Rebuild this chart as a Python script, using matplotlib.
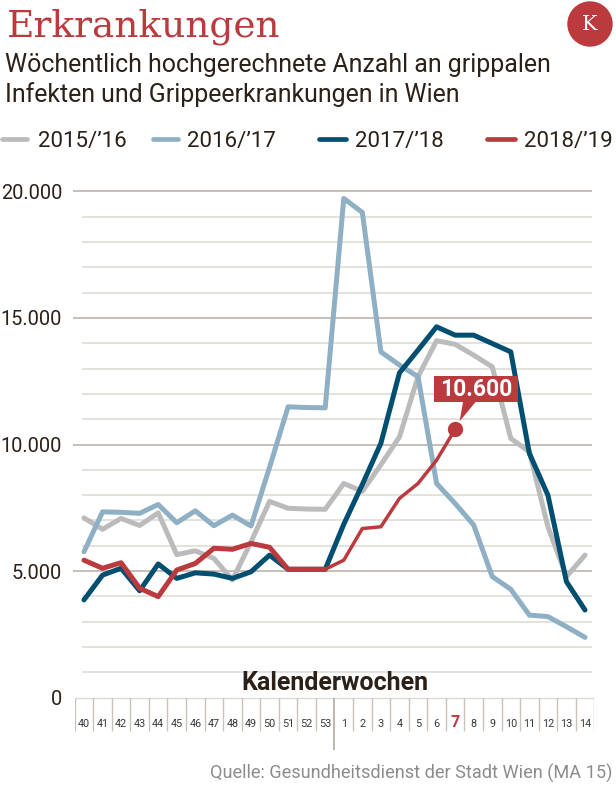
import matplotlib
matplotlib.use("Agg")
import matplotlib.pyplot as plt
from matplotlib.lines import Line2D
from matplotlib.patches import Circle, Rectangle, Polygon
from matplotlib.transforms import IdentityTransform

# Kalenderwochen 40..53, 1..14
weeks = [str(w) for w in range(40, 54)] + [str(w) for w in range(1, 15)]
season_labels = ["2015/\u201916", "2016/\u201917", "2017/\u201918", "2018/\u201919"]

s1516 = [7100, 6650, 7080, 6800, 7300, 5650, 5800, 5500, 4650, 6150, 7750, 7480, 7450, 7440,
         8460, 8150, 9200, 10300, 12680, 14100, 13960, 13530, 13070, 10240, 9710, 6750, 4780, 5630]
s1617 = [5760, 7340, 7320, 7280, 7630, 6910, 7380, 6790, 7210, 6780, 9100, 11490, 11460, 11450,
         19720, 19170, 13660, 13140, 12680, 8460, 7670, 6820, 4780, 4280, 3260, 3200, 2800, 2380]
s1718 = [3860, 4840, 5110, 4220, 5280, 4710, 4930, 4880, 4710, 4970, 5630, 5070, 5070, 5070,
         6850, 8420, 10050, 12830, 13730, 14650, 14320, 14320, 13990, 13660, 9650, 8000, 4580, 3460]
s1819 = [5430, 5110, 5330, 4320, 3990, 5040, 5300, 5900, 5860, 6090, 5940, 5070, 5070, 5070,
         5430, 6680, 6750, 7870, 8460, 9380, 10600]
current_week = "7"

c_gray = "#bbbbbb"
c_lblue = "#8fb0c4"
c_dark = "#004f70"
c_red = "#bb3a3e"
c_text = "#2b2118"
colors = [c_gray, c_lblue, c_dark, c_red]

W, H = 616, 785
fig = plt.figure(figsize=(W / 100, H / 100), dpi=100)
FONT = "Roboto"


def fx(x):
    return x / W


def fy(y):
    return 1 - y / H


# plot area: x from 74.7 to 594.3 px, y 0 at 697.6, 20000 at 191.4
left, right, y0, y20 = 74.7, 594.3, 697.6, 191.4
ax = fig.add_axes([fx(left), fy(y0), (right - left) / W, (y0 - y20) / H])
n = len(weeks)
ax.set_xlim(-0.5, n - 0.5)
ax.set_ylim(0, 20000)
for s in ax.spines.values():
    s.set_visible(False)
ax.set_xticks([])
ax.set_yticks([0, 5000, 10000, 15000, 20000])
ax.set_yticklabels(["0", "5.000", "10.000", "15.000", "20.000"], fontname=FONT,
                   fontsize=14.4, color=c_text)
ax.tick_params(axis="y", length=0, pad=9)

step = (right - left) / n
def px2x(p):
    return (p - left) / step - 0.5

for v in range(1000, 20001, 1000):
    if v % 5000 == 0:
        ax.hlines(v, px2x(73), px2x(592), color="#b5ada3", lw=1.1, clip_on=False, zorder=1)
    else:
        ax.hlines(v, px2x(82), px2x(592), color="#dedad5", lw=1.1, clip_on=False, zorder=1)

lw = 3.6
xs = list(range(n))
for vals, col in zip([s1516, s1617, s1718], colors[:3]):
    ax.plot(xs[:len(vals)], vals, color=col, lw=lw, clip_on=False, zorder=3,
            solid_capstyle="round")
ax.plot(xs[:14], s1819[:14], color=c_red, lw=lw, clip_on=False, zorder=4, solid_capstyle="round")
ax.plot(xs[13:len(s1819)], s1819[13:], color=c_red, lw=2.5, clip_on=False, zorder=4,
        solid_capstyle="round")
last_i = len(s1819) - 1
ax.plot([last_i], [s1819[-1]], "o", color=c_red, ms=10, zorder=5, clip_on=False)

# annotation box with pointer (pixel offsets from the last point)
fig.canvas.draw()
dx, dy = ax.transData.transform((last_i, s1819[-1]))
idt = IdentityTransform()
tri = Polygon([(dx + 8, dy + 28), (dx + 21, dy + 28), (dx + 4.5, dy + 8)], closed=True,
              facecolor=c_red, edgecolor="none", transform=idt, zorder=6)
fig.add_artist(tri)
box = Rectangle((dx - 21, dy + 27), 84, 26, facecolor=c_red, edgecolor="none",
                transform=idt, zorder=6)
fig.add_artist(box)
fig.text((dx + 21) / W, (dy + 40) / H, f"{s1819[-1]:,}".replace(",", "."), color="white",
         fontname=FONT, fontweight="bold", fontsize=16.5, ha="center", va="center", zorder=7)

# Kalenderwochen strip
ax2 = fig.add_axes([fx(left), fy(760), (right - left) / W, (760 - 697) / H])
ax2.set_xlim(-0.5, n - 0.5)
ax2.set_ylim(760, 697)
ax2.axis("off")
ax2.hlines(697.5, -0.5, n - 0.5, color="#dcd8d3", lw=1)
for k in range(n + 1):
    b = k - 0.5
    if weeks[min(k, n - 1)] == "1" and k > 0:
        ax2.vlines(b, 697.5, 750, color="#a9a39b", lw=1.1)
    else:
        ax2.vlines(b, 697.5, 731, color="#c9c3bc", lw=1)
for k, w in enumerate(weeks):
    if w == current_week:
        ax2.text(k, 727, w, ha="center", va="baseline", fontname=FONT, fontweight="bold",
                 fontsize=11.5, color=c_red)
    else:
        ax2.text(k, 727, w, ha="center", va="baseline", fontname=FONT, fontsize=7.8,
                 color="#3a3a3a")

fig.text(fx((left + right) / 2), fy(690), "Kalenderwochen", ha="center", va="baseline",
         fontname=FONT, fontweight="bold", fontsize=18, color=c_text)

# header
fig.text(fx(7), fy(36.7), "Erkrankungen", fontname="DejaVu Serif", fontsize=27,
         color=c_red, va="baseline")
fig.add_artist(Circle((590, H - 24), 22.7, facecolor=c_red, edgecolor="none", transform=idt))
fig.text(fx(590), fy(24), "K", fontname="DejaVu Serif", fontsize=15, color="white",
         ha="center", va="center")
fig.text(fx(5), fy(72), "Wöchentlich hochgerechnete Anzahl an grippalen", fontname=FONT,
         fontsize=17.9, color=c_text, va="baseline")
fig.text(fx(5), fy(102), "Infekten und Grippeerkrankungen in Wien", fontname=FONT,
         fontsize=17.9, color=c_text, va="baseline")

# legend
leg_x = [(0, 29, 38), (151, 180, 187), (317, 348, 355), (485, 517, 524)]
for (x1, x2, xt), lab, col in zip(leg_x, season_labels, colors):
    fig.add_artist(Line2D([fx(x1 + 2), fx(x2 - 2)], [fy(139), fy(139)], color=col, lw=3.4,
                          solid_capstyle="round"))
    fig.text(fx(xt), fy(147), lab, fontname=FONT, fontsize=16, color=c_text, va="baseline")

fig.text(fx(612), fy(779), "Quelle: Gesundheitsdienst der Stadt Wien (MA 15)", ha="right",
         va="baseline", fontname=FONT, fontsize=13.1, color="#8c8c8c")

fig.savefig("out.png", dpi=100)
